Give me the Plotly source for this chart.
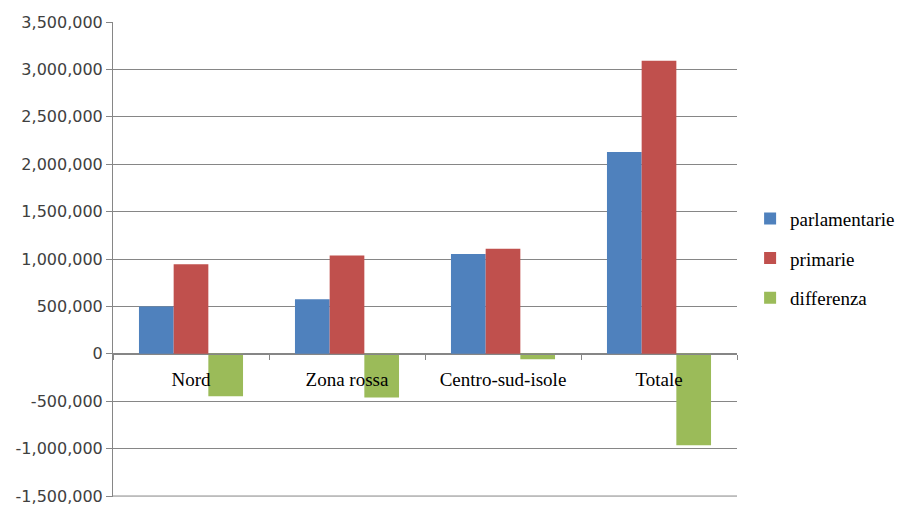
import plotly.graph_objects as go

categories = ["Nord", "Zona rossa", "Centro-sud-isole", "Totale"]
parlamentarie = [499000, 577000, 1052000, 2128000]
primarie = [946000, 1037000, 1108000, 3091000]
differenza = [-447000, -460000, -56000, -963000]

series = [
    ("parlamentarie", parlamentarie, "#4F81BD"),
    ("primarie", primarie, "#C0504D"),
    ("differenza", differenza, "#9BBB59"),
]

tick_vals = [-1500000, -1000000, -500000, 0, 500000, 1000000, 1500000,
             2000000, 2500000, 3000000, 3500000]
tick_text = ["-1,500,000", "-1,000,000", "-500,000", "0", "500,000", "1,000,000",
             "1,500,000", "2,000,000", "2,500,000", "3,000,000", "3,500,000"]
y_min, y_max = -1510000, 3500000

fig = go.Figure()
for name, vals, color in series:
    fig.add_trace(go.Bar(
        x=categories, y=vals, name=name, legendgroup=name,
        marker=dict(color=color, line=dict(width=0)),
    ))

grid = "#868686"
# bottom gridline (plotly hides the gridline at the range edge)
fig.add_shape(type="line", xref="paper", yref="y", x0=0, x1=1,
              y0=tick_vals[0], y1=tick_vals[0],
              line=dict(color=grid, width=1), layer="below")

fig.update_layout(
    width=904, height=506,
    margin=dict(l=113, r=167, t=22, b=9, autoexpand=False),
    paper_bgcolor="white", plot_bgcolor="white",
    barmode="group", bargap=0.333, bargroupgap=0,
    showlegend=True,
    legend=dict(
        x=1.021, y=0.502, xanchor="left", yanchor="middle",
        font=dict(family="Liberation Serif", size=19, color="#000000"),
        tracegroupgap=12, bgcolor="rgba(0,0,0,0)",
    ),
    xaxis=dict(
        type="category", anchor="free", automargin=False,
        position=(0 - y_min) / (y_max - y_min),
        showline=True, linecolor=grid, linewidth=1,
        ticks="outside", tickson="boundaries", ticklen=5, tickcolor=grid,
        showgrid=False,
        tickfont=dict(family="Liberation Serif", size=19, color="#000000"),
        ticklabelstandoff=8,
    ),
    yaxis=dict(
        range=[y_min, y_max], tickvals=tick_vals, ticktext=tick_text,
        automargin=False,
        showline=True, linecolor=grid, linewidth=1,
        ticks="outside", ticklen=6, tickcolor=grid,
        showgrid=True, gridcolor=grid, gridwidth=1,
        zeroline=False,
        tickfont=dict(family="DejaVu Sans", size=16, color="#404040"),
    ),
)

fig.write_html(
    "out.html",
    config={"displayModeBar": False},
    post_script="document.body.style.margin='0';document.body.style.overflow='hidden';",
)
